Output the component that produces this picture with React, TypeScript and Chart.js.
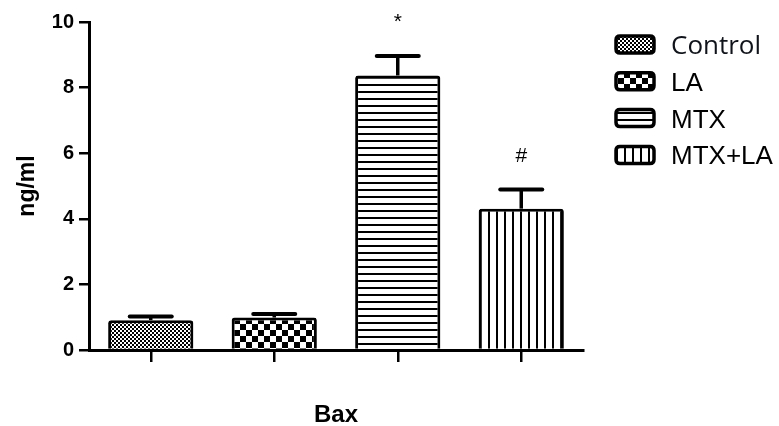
import React, { useEffect, useRef } from 'react';
import { Chart, registerables } from 'chart.js';

Chart.register(...registerables);

const categories = ['Control', 'LA', 'MTX', 'MTX+LA'];
const means = [0.91, 0.99, 8.37, 4.31];
const errors = [0.11, 0.11, 0.59, 0.58];
const markers = ['', '', '*', '#'];
const patternKinds = ['fineChecker', 'coarseChecker', 'hLines', 'vLines'];
const yTicks = [0, 2, 4, 6, 8, 10];
const xTitle = 'Bax';
const yTitle = 'ng/ml';

function makePattern(kind: string): CanvasPattern | string {
  const c = document.createElement('canvas');
  let w = 4, h = 4;
  if (kind === 'coarseChecker') { w = 12; h = 12; }
  if (kind === 'hLines') { w = 8; h = 7; }
  if (kind === 'vLines') { w = 8; h = 8; }
  c.width = w; c.height = h;
  const g = c.getContext('2d')!;
  g.fillStyle = '#fff';
  g.fillRect(0, 0, w, h);
  g.fillStyle = '#000';
  if (kind === 'fineChecker') {
    g.fillRect(0, 0, 2, 2);
    g.fillRect(2, 2, 2, 2);
  } else if (kind === 'coarseChecker') {
    g.fillRect(0, 0, 6, 6);
    g.fillRect(6, 6, 6, 6);
  } else if (kind === 'hLines') {
    g.fillRect(0, 0, w, 2);
  } else if (kind === 'vLines') {
    g.fillRect(0, 0, 2, h);
  }
  const p = g.createPattern(c, 'repeat');
  return p || '#888';
}

function roundRect(ctx: CanvasRenderingContext2D, x: number, y: number, w: number, h: number, r: number) {
  ctx.beginPath();
  ctx.moveTo(x + r, y);
  ctx.lineTo(x + w - r, y);
  ctx.quadraticCurveTo(x + w, y, x + w, y + r);
  ctx.lineTo(x + w, y + h - r);
  ctx.quadraticCurveTo(x + w, y + h, x + w - r, y + h);
  ctx.lineTo(x + r, y + h);
  ctx.quadraticCurveTo(x, y + h, x, y + h - r);
  ctx.lineTo(x, y + r);
  ctx.quadraticCurveTo(x, y, x + r, y);
  ctx.closePath();
}

export default function App() {
  const ref = useRef<HTMLCanvasElement>(null);

  useEffect(() => {
    if (!ref.current) return;
    const patterns = patternKinds.map(makePattern);

    const errorBarPlugin = {
      id: 'errorBars',
      afterDatasetsDraw(chart: any) {
        const ctx = chart.ctx as CanvasRenderingContext2D;
        const meta = chart.getDatasetMeta(0);
        const y = chart.scales.y;
        ctx.save();
        ctx.strokeStyle = '#000';
        ctx.fillStyle = '#000';
        meta.data.forEach((bar: any, i: number) => {
          const x = bar.x;
          const yBar = y.getPixelForValue(means[i]);
          const yTop = y.getPixelForValue(means[i] + errors[i]);
          ctx.lineWidth = 3.5;
          ctx.lineCap = 'butt';
          ctx.beginPath();
          ctx.moveTo(x, yBar);
          ctx.lineTo(x, yTop);
          ctx.stroke();
          ctx.lineWidth = 4;
          ctx.lineCap = 'round';
          ctx.beginPath();
          ctx.moveTo(x - 21, yTop);
          ctx.lineTo(x + 21, yTop);
          ctx.stroke();
          if (markers[i]) {
            ctx.font = '21px "Liberation Sans", Arial, sans-serif';
            ctx.textAlign = 'center';
            ctx.textBaseline = 'alphabetic';
            ctx.fillText(markers[i], x, yTop - 28);
          }
        });
        ctx.restore();
      },
    };

    const legendPlugin = {
      id: 'patternLegend',
      afterDraw(chart: any) {
        const ctx = chart.ctx as CanvasRenderingContext2D;
        ctx.save();
        categories.forEach((label, i) => {
          const cy = 44.5 + i * 36.8;
          roundRect(ctx, 616, cy - 8.5, 38, 17, 4);
          ctx.fillStyle = patterns[i] as any;
          ctx.fill();
          ctx.lineWidth = 3.5;
          ctx.strokeStyle = '#000';
          ctx.stroke();
          ctx.fillStyle = i === 0 ? '#10131a' : '#000';
          ctx.font = i === 0 ? '26px "Open Sans", sans-serif' : '26px "Liberation Sans", Arial, sans-serif';
          ctx.textAlign = 'left';
          ctx.textBaseline = 'alphabetic';
          ctx.fillText(label, 671, cy + 9.5);
        });
        ctx.restore();
      },
    };

    const chart = new Chart(ref.current, {
      type: 'bar',
      data: {
        labels: categories,
        datasets: [
          {
            label: xTitle,
            data: means,
            backgroundColor: patterns as any,
            borderColor: '#000',
            borderWidth: 3,
            borderRadius: 3,
            borderSkipped: 'bottom',
            barPercentage: 0.69,
            categoryPercentage: 1,
          },
        ],
      },
      options: {
        responsive: false,
        animation: false,
        events: [],
        layout: { padding: { top: 22, right: 196, left: 0, bottom: 0 } },
        plugins: {
          legend: { display: false },
          tooltip: { enabled: false },
        },
        scales: {
          x: {
            type: 'category',
            offset: true,
            grid: {
              offset: false,
              drawOnChartArea: false,
              drawTicks: true,
              tickLength: 12,
              color: '#000',
              lineWidth: 2.5,
            },
            border: { color: '#000', width: 3 },
            ticks: { display: false },
            title: {
              display: true,
              text: xTitle,
              color: '#000',
              font: { family: '"Liberation Sans", Arial, sans-serif', size: 24, weight: 'bold', lineHeight: 0.9 },
              padding: { top: 0, bottom: 0 },
            },
            afterFit: (s: any) => { s.height = 76; },
          },
          y: {
            min: 0,
            max: 10,
            afterBuildTicks: (s: any) => { s.ticks = yTicks.map((v) => ({ value: v })); },
            ticks: {
              color: '#000',
              padding: 5,
              font: { family: '"Liberation Sans", Arial, sans-serif', size: 20, weight: 'bold' },
            },
            grid: {
              drawOnChartArea: false,
              drawTicks: true,
              tickLength: 10,
              color: '#000',
              lineWidth: 2.5,
            },
            border: { color: '#000', width: 3 },
            title: {
              display: true,
              text: yTitle,
              color: '#000',
              font: { family: '"Liberation Sans", Arial, sans-serif', size: 23, weight: 'bold', lineHeight: 1.2 },
              padding: { top: 14, bottom: 0 },
            },
            afterFit: (s: any) => { s.width = 89; },
          },
        },
      },
      plugins: [errorBarPlugin, legendPlugin],
    });

    return () => chart.destroy();
  }, []);

  return (
    <div style={{ position: 'absolute', left: 0, top: 0, width: 779, height: 426, background: '#fff' }}>
      <canvas ref={ref} width={779} height={426} style={{ display: 'block' }} />
    </div>
  );
}
